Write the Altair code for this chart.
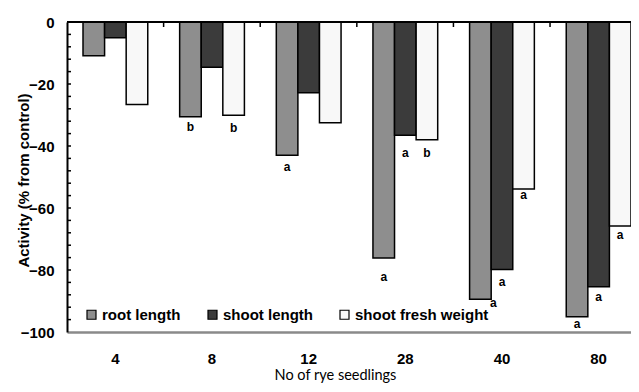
import altair as alt
import pandas as pd

groups = ["4", "8", "12", "28", "40", "80"]
series = ["root length", "shoot length", "shoot fresh weight"]
colors = ["#8e8e8e", "#3b3b3b", "#f8f8f8"]

root_len = [-10.9, -30.6, -43.0, -76.1, -89.4, -95.1]
shoot_len = [-5.1, -14.6, -22.8, -36.5, -79.8, -85.4]
fresh_wt = [-26.6, -30.1, -32.5, -38.0, -53.9, -65.8]

root_sig = ["", "b", "a", "a", "a", "a"]
shoot_sig = ["", "", "", "a", "a", "a"]
fresh_sig = ["", "b", "", "b", "a", "a"]
# where the significance letter sits (in % units)
root_sig_at = [0, -34.0, -46.9, -82.2, -90.6, -97.4]
shoot_sig_at = [0, 0, 0, -42.4, -83.8, -88.7]
fresh_sig_at = [0, -34.3, 0, -42.4, -55.7, -68.6]

y_major = [0, -20, -40, -60, -80, -100]
y_minor = list(range(-96, 0, 4))

rows = []
for s, vals, sig, at in [
    (series[0], root_len, root_sig, root_sig_at),
    (series[1], shoot_len, shoot_sig, shoot_sig_at),
    (series[2], fresh_wt, fresh_sig, fresh_sig_at),
]:
    for g, v, l, a in zip(groups, vals, sig, at):
        rows.append({"group": g, "series": s, "value": v, "sig": l, "sig_at": a,
                     "side": (s == series[0] and g == "40")})
df = pd.DataFrame(rows)

FONT = "Liberation Sans"
W, H = 564, 310

xscale = alt.Scale(domain=groups, paddingInner=0.33, paddingOuter=0.0828, align=1)
yscale = alt.Scale(domain=[-100, 0], nice=False, zero=False)

base = alt.Chart(df)

bars = base.mark_bar(stroke="black", strokeWidth=1.5).encode(
    x=alt.X("group:N", sort=groups, scale=xscale,
            axis=alt.Axis(title="No of rye seedlings", labelAngle=0, ticks=False,
                          domainColor="#8a8a8a", domainWidth=2.5,
                          labelFont=FONT, labelFontSize=15, labelFontWeight="bold",
                          labelColor="black", labelPadding=19,
                          titleFont="Lato", titleFontSize=14.5, titleFontWeight="normal",
                          titleColor="black", titleX=268, titleY=47,
                          titleAlign="center", titleBaseline="alphabetic")),
    xOffset=alt.XOffset("series:N", sort=series, scale=alt.Scale(paddingInner=0, paddingOuter=0)),
    y=alt.Y("value:Q", scale=yscale,
            axis=alt.Axis(values=y_major, title="Activity (% from control)", orient="left",
                          ticks=False, grid=False, domainColor="black", domainWidth=2,
                          labelFont=FONT, labelFontSize=15, labelFontWeight="bold",
                          labelColor="black", labelPadding=13,
                          titleFont=FONT, titleFontSize=15, titleFontWeight="bold",
                          titleColor="black", titleX=-44, titleY=158,
                          titleBaseline="middle", titleAlign="center")),
    color=alt.Color("series:N", sort=series, scale=alt.Scale(domain=series, range=colors),
                    legend=alt.Legend(title=None, orient="none", direction="horizontal",
                                      legendX=17, legendY=285, symbolType="square",
                                      symbolSize=81, symbolStrokeColor="black",
                                      symbolStrokeWidth=1.2, labelFont=FONT,
                                      labelFontSize=15, labelFontWeight="bold",
                                      labelColor="black", labelOffset=3,
                                      columnPadding=24, padding=0)),
)

minor = alt.Chart(pd.DataFrame({"t": y_minor})).mark_rule(color="black", strokeWidth=1.5).encode(
    y=alt.Y("t:Q", scale=yscale, axis=None),
    x=alt.value(0),
    x2=alt.value(4),
)

sig = base.transform_filter("datum.sig != '' && !datum.side").mark_text(
    font=FONT, fontSize=12, fontWeight="bold", color="black", baseline="middle"
).encode(
    x=alt.X("group:N", sort=groups, scale=xscale),
    xOffset=alt.XOffset("series:N", sort=series),
    y=alt.Y("sig_at:Q", scale=yscale, axis=None),
    text="sig:N",
)

sig_side = base.transform_filter("datum.side").mark_text(
    font=FONT, fontSize=12, fontWeight="bold", color="black", baseline="middle", dx=13
).encode(
    x=alt.X("group:N", sort=groups, scale=xscale),
    xOffset=alt.XOffset("series:N", sort=series),
    y=alt.Y("sig_at:Q", scale=yscale, axis=None),
    text="sig:N",
)

top_line = alt.Chart(pd.DataFrame({"z": [0]})).mark_rule(color="black", strokeWidth=2).encode(
    y=alt.Y("z:Q", scale=yscale, axis=None)
)

main = alt.layer(bars, minor, sig, sig_side, top_line).resolve_axis(y="independent")

sep = alt.Chart(pd.DataFrame({"group": groups[:-1]})).mark_rule(
    color="black", strokeWidth=1.5
).encode(
    x=alt.X("group:N", sort=groups[:-1], bandPosition=1, axis=None,
            scale=alt.Scale(domain=groups[:-1], paddingInner=0, paddingOuter=0.419, align=0)),
    y=alt.value(0),
    y2=alt.value(5),
)

chart = alt.layer(main, sep).resolve_scale(x="independent").properties(
    width=W, height=H,
    autosize=alt.AutoSizeParams(type="none"),
    padding={"left": 59, "top": 14, "right": 0, "bottom": 52},
).configure_view(stroke=None).configure_axis(labelFlush=False)

chart.save("out.html", embed_options={"renderer": "svg", "actions": False})
